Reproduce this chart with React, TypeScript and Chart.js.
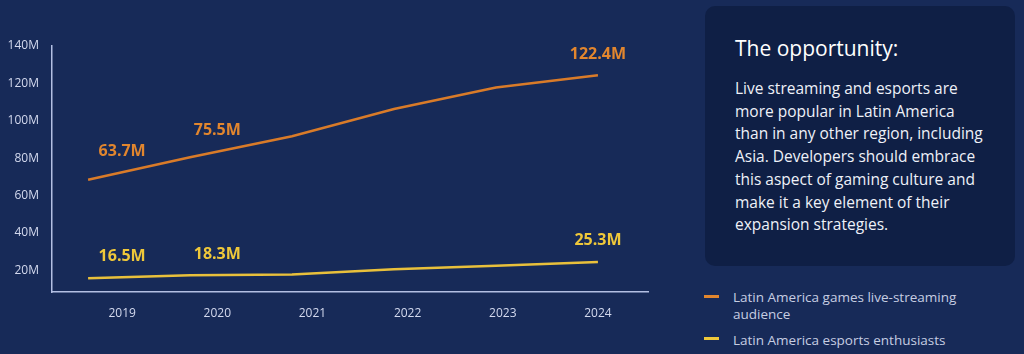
import React, { useEffect, useRef } from "react";
import { Chart, registerables } from "chart.js";

Chart.register(...registerables);

// ---- data ----
const years = ["2019", "2020", "2021", "2022", "2023", "2024"];
const streamingAudience = [68.5, 80.5, 91.7, 106.3, 117.8, 124.3];
const esportsEnthusiasts = [15.8, 17.3, 17.8, 20.6, 22.5, 24.5];
const yTickValues = [20, 40, 60, 80, 100, 120, 140];
const streamingCalloutIdx = [0, 1, 5];
const streamingCalloutText = ["63.7M", "75.5M", "122.4M"];
const esportsCalloutIdx = [0, 1, 5];
const esportsCalloutText = ["16.5M", "18.3M", "25.3M"];
const seriesNames = ["Latin America games live-streaming audience", "Latin America esports enthusiasts"];
const panelTitle = "The opportunity:";
const panelLines = [
  "Live streaming and esports are",
  "more popular in Latin America",
  "than in any other region, including",
  "Asia. Developers should embrace",
  "this aspect of gaming culture and",
  "make it a key element of their",
  "expansion strategies.",
];

const FONT = "'Open Sans', 'DejaVu Sans', sans-serif";
const BG = "#172a58";
const PANEL_BG = "#0f1f45";
const ORANGE = "#d97b29";
const ORANGE_TXT = "#e2862e";
const YELLOW = "#e9c03b";
const YELLOW_TXT = "#efc83a";
const AXIS = "#b3bfe3";
const TICK = "#d3d9ee";

const calloutPlugin = {
  id: "callouts",
  afterDatasetsDraw(chart: any) {
    const ctx = chart.ctx;
    const x2 = chart.scales.x2;
    chart.data.datasets.forEach((ds: any, di: number) => {
      const meta = chart.getDatasetMeta(di);
      const pts = meta.data;
      const idxs: number[] = ds.calloutIdx || [];
      const texts: string[] = ds.calloutText || [];
      ctx.save();
      ctx.font = `700 16px ${FONT}`;
      ctx.fillStyle = ds.calloutColor;
      ctx.textAlign = "center";
      ctx.textBaseline = "middle";
      idxs.forEach((ci, k) => {
        const px = x2.getPixelForValue(ci);
        let py = pts[pts.length - 1].y;
        if (px <= pts[0].x) py = pts[0].y;
        for (let j = 0; j < pts.length - 1; j++) {
          const a = pts[j], b = pts[j + 1];
          if (px >= a.x && px <= b.x) {
            const t = (px - a.x) / (b.x - a.x);
            py = a.y + t * (b.y - a.y);
            break;
          }
        }
        ctx.fillText(texts[k], px, py - 21);
      });
      ctx.restore();
    });
  },
};

function LineChart() {
  const ref = useRef<HTMLCanvasElement | null>(null);
  useEffect(() => {
    if (!ref.current) return;
    const chart = new Chart(ref.current, {
      type: "line",
      data: {
        datasets: [
          {
            label: seriesNames[0],
            data: streamingAudience.map((v, i) => ({ x: i, y: v })),
            borderColor: ORANGE,
            borderWidth: 2.5,
            pointRadius: 0,
            tension: 0,
            xAxisID: "x",
            calloutIdx: streamingCalloutIdx,
            calloutText: streamingCalloutText,
            calloutColor: ORANGE_TXT,
          } as any,
          {
            label: seriesNames[1],
            data: esportsEnthusiasts.map((v, i) => ({ x: i, y: v })),
            borderColor: YELLOW,
            borderWidth: 2.5,
            pointRadius: 0,
            tension: 0,
            xAxisID: "x",
            calloutIdx: esportsCalloutIdx,
            calloutText: esportsCalloutText,
            calloutColor: YELLOW_TXT,
          } as any,
        ],
      },
      options: {
        animation: false,
        responsive: false,
        maintainAspectRatio: false,
        layout: { padding: { top: 46, right: 42, bottom: 0, left: 0 } },
        plugins: { legend: { display: false }, tooltip: { enabled: false } },
        scales: {
          x: {
            type: "linear",
            display: false,
            min: -0.354,
            max: 5.491,
          },
          x2: {
            type: "linear",
            position: "bottom",
            min: -0.737,
            max: 5.526,
            afterBuildTicks: (s: any) => {
              s.ticks = years.map((_, i) => ({ value: i }));
            },
            afterFit: (s: any) => {
              s.height = 62;
            },
            grid: { drawOnChartArea: false, drawTicks: false },
            border: { display: true, color: AXIS, width: 1.5 },
            ticks: {
              color: TICK,
              padding: 14,
              autoSkip: false,
              maxRotation: 0,
              font: { family: FONT, size: 12 },
              callback: (v: any) => years[v as number],
            },
          },
          y: {
            type: "linear",
            min: 8.4,
            max: 140,
            afterBuildTicks: (s: any) => {
              s.ticks = yTickValues.map((v) => ({ value: v }));
            },
            afterFit: (s: any) => {
              s.width = 52;
            },
            grid: { drawOnChartArea: false, drawTicks: false },
            border: { display: true, color: AXIS, width: 1.5 },
            ticks: {
              color: TICK,
              padding: 13,
              font: { family: FONT, size: 12 },
              callback: (v: any) => `${v}M`,
            },
          },
        },
      } as any,
      plugins: [calloutPlugin],
    });
    return () => chart.destroy();
  }, []);
  return <canvas ref={ref} width={690} height={354} style={{ position: "absolute", left: 0, top: 0, width: 690, height: 354 }} />;
}

export default function App() {
  return (
    <div style={{ position: "absolute", left: 0, top: 0, width: 1024, height: 354, background: BG, overflow: "hidden", fontFamily: FONT }}>
      <LineChart />
      <div style={{ position: "absolute", left: 705, top: 6, width: 310, height: 260, background: PANEL_BG, borderRadius: 10 }}>
        <div style={{ position: "absolute", left: 30, top: 29, fontSize: 21, lineHeight: "27px", color: "#ffffff", whiteSpace: "nowrap" }}>{panelTitle}</div>
        <div style={{ position: "absolute", left: 30, top: 71, fontSize: 15.5, lineHeight: "22.7px", color: "#eef1f8", whiteSpace: "nowrap" }}>
          {panelLines.map((l, i) => (
            <div key={i}>{l}</div>
          ))}
        </div>
      </div>
      <div style={{ position: "absolute", left: 704, top: 295, width: 15, height: 3, background: ORANGE_TXT }} />
      <div style={{ position: "absolute", left: 733, top: 289, fontSize: 13.5, lineHeight: "16.5px", color: "#c6cde2", whiteSpace: "nowrap" }}>
        <div>Latin America games live-streaming</div>
        <div>audience</div>
      </div>
      <div style={{ position: "absolute", left: 704, top: 337, width: 15, height: 3, background: YELLOW_TXT }} />
      <div style={{ position: "absolute", left: 733, top: 332, fontSize: 13.5, lineHeight: "16.5px", color: "#c6cde2", whiteSpace: "nowrap" }}>
        {seriesNames[1]}
      </div>
    </div>
  );
}
